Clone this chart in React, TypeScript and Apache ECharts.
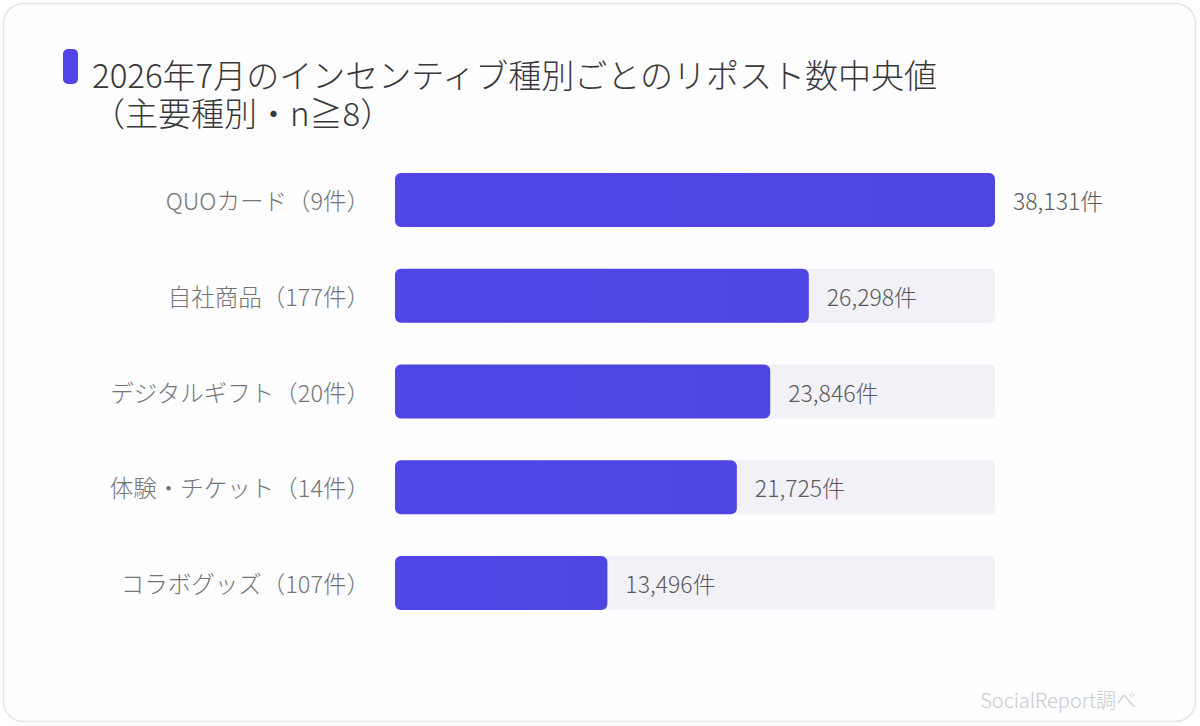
import { useEffect, useRef } from 'react';

import * as echarts from 'echarts';

const categories = [
    'QUOカード（9件）',
    '自社商品（177件）',
    'デジタルギフト（20件）',
    '体験・チケット（14件）',
    'コラボグッズ（107件）',
];
const medians = [38131, 26298, 23846, 21725, 13496];

const titleLines = ['2026年7月のインセンティブ種別ごとのリポスト数中央値', '（主要種別・n≧8）'];
const sourceText = 'SocialReport調べ';

const FONT = '"Noto Sans CJK JP Light", "Noto Sans CJK JP", "Noto Sans", sans-serif';

const App = () => {
    const chartRef = useRef<HTMLDivElement | null>(null);

    useEffect(() => {
        const myChart = echarts.init(chartRef.current!, undefined, { renderer: 'svg' });

        // タイトル2行は別々のテキストとして置く
        const titleGraphics = titleLines.map((line, i) => ({
            type: 'text' as const,
            x: 92,
            y: 74 + i * 38,
            style: {
                text: line,
                fontFamily: FONT,
                fontWeight: 300,
                fontSize: 33,
                lineHeight: 34,
                fill: '#383838',
                verticalAlign: 'middle' as const,
            },
        }));

        const option: echarts.EChartsOption = {
            animation: false,
            backgroundColor: '#ffffff',
            textStyle: { fontFamily: FONT },
            graphic: [
                {
                    type: 'rect',
                    z: -10,
                    shape: { x: 3.5, y: 3.5, width: 1192, height: 718, r: 20 },
                    style: { fill: '#fefdff', stroke: '#e6e6ea', lineWidth: 1.5 },
                },
                {
                    type: 'rect',
                    shape: { x: 63, y: 49, width: 15, height: 35, r: 5 },
                    style: { fill: '#4f46e5' },
                },
                ...titleGraphics,
                {
                    type: 'text',
                    x: 1136,
                    y: 699,
                    style: {
                        text: sourceText,
                        fontFamily: FONT,
                        fontWeight: 300,
                        fontSize: 20,
                        fill: '#c8c8cc',
                        align: 'right',
                        verticalAlign: 'middle',
                    },
                },
            ],
            grid: { left: 395, right: 205, top: 152, bottom: 95 },
            xAxis: {
                type: 'value',
                min: 0,
                max: Math.max(...medians),
                show: false,
            },
            yAxis: {
                type: 'category',
                data: categories,
                inverse: true,
                axisLine: { show: false },
                axisTick: { show: false },
                axisLabel: {
                    margin: 25,
                    fontSize: 23.5,
                    fontWeight: 300,
                    color: '#747474',
                    fontFamily: FONT,
                },
            },
            series: [
                {
                    type: 'bar',
                    data: medians,
                    barWidth: 54,
                    showBackground: true,
                    backgroundStyle: { color: '#f2f1f8', borderRadius: 4 },
                    itemStyle: {
                        borderRadius: 6,
                        color: new echarts.graphic.LinearGradient(0, 0, 1, 0, [
                            { offset: 0, color: '#5046e6' },
                            { offset: 1, color: '#4f45e2' },
                        ]),
                    },
                    label: {
                        show: true,
                        position: 'right',
                        distance: 18,
                        fontSize: 23,
                        fontWeight: 300,
                        color: '#5a5a5a',
                        fontFamily: FONT,
                        formatter: (p: any) => `${Number(p.value).toLocaleString('en-US')}件`,
                    },
                },
            ],
        };

        myChart.setOption(option);

        return () => {
            myChart.dispose();
        };
    }, []);

    return (
        <div
            ref={chartRef}
            style={{ position: 'fixed', left: 0, top: 0, width: 1200, height: 726 }}
        />
    );
};

export default App;
